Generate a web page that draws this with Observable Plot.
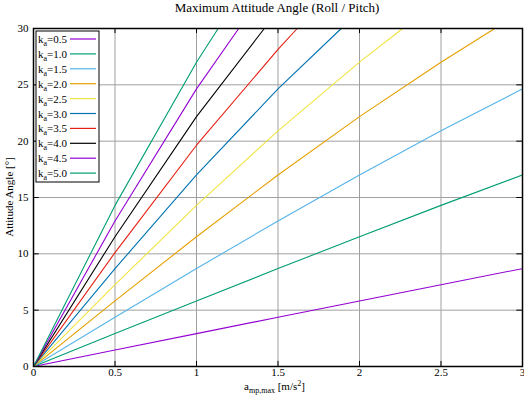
<!DOCTYPE html>
<html>
<head>
<meta charset="utf-8">
<script src="https://cdn.jsdelivr.net/npm/d3@7"></script>
<script src="https://cdn.jsdelivr.net/npm/@observablehq/plot@0.6"></script>
<style>
  body { margin: 0; background: white; }
  #wrap { width: 524px; height: 396px; position: relative; font-family: "Liberation Serif", "DejaVu Serif", serif; }
  #title { height: 18px; line-height: 16px; text-align: center; font-size: 13px; color: #000; padding-left: 30px; box-sizing: border-box; }
  svg { display: block; }
  svg text { font-family: "Liberation Serif", "DejaVu Serif", serif; }
</style>
</head>
<body>
<div id="wrap"><div id="title">Maximum Attitude Angle (Roll / Pitch)</div></div>
<script>
// Values
const titleText = "Maximum Attitude Angle (Roll / Pitch)";
const kaLabels = ["0.5", "1.0", "1.5", "2.0", "2.5", "3.0", "3.5", "4.0", "4.5", "5.0"];
const seriesColors = ["#9400d3", "#009e73", "#56b4e9", "#e69f00", "#f0e442", "#0072b2", "#e51e10", "#000000", "#9400d3", "#009e73"];
const xTicks = [0, 0.5, 1, 1.5, 2, 2.5, 3];
const yTicks = [0, 5, 10, 15, 20, 25, 30];

// acceleration (x) and angle (y) points per series; steep lines end where they leave the top
const accel05 = [0, 0.5, 1, 1.5, 2, 2.5, 3];
const angle05 = [0, 1.46, 2.92, 4.37, 5.82, 7.26, 8.69];
const accel10 = [0, 0.5, 1, 1.5, 2, 2.5, 3];
const angle10 = [0, 2.92, 5.82, 8.69, 11.52, 14.30, 17.00];
const accel15 = [0, 0.5, 1, 1.5, 2, 2.5, 3];
const angle15 = [0, 4.37, 8.69, 12.92, 17.00, 20.92, 24.64];
const accel20 = [0, 0.5, 1, 1.5, 2, 2.5, 2.83];
const angle20 = [0, 5.82, 11.52, 17.00, 22.18, 27.01, 30];
const accel25 = [0, 0.5, 1, 1.5, 2, 2.265];
const angle25 = [0, 7.26, 14.30, 20.92, 27.01, 30];
const accel30 = [0, 0.5, 1, 1.5, 1.888];
const angle30 = [0, 8.69, 17.00, 24.64, 30];
const accel35 = [0, 0.5, 1, 1.5, 1.618];
const angle35 = [0, 10.11, 19.64, 28.15, 30];
const accel40 = [0, 0.5, 1, 1.416];
const angle40 = [0, 11.52, 22.18, 30];
const accel45 = [0, 0.5, 1, 1.259];
const angle45 = [0, 12.92, 24.64, 30];
const accel50 = [0, 0.5, 1, 1.133];
const angle50 = [0, 14.30, 27.01, 30];

const accelSets = [accel05, accel10, accel15, accel20, accel25, accel30, accel35, accel40, accel45, accel50];
const angleSets = [angle05, angle10, angle15, angle20, angle25, angle30, angle35, angle40, angle45, angle50];

const rows = [];
kaLabels.forEach((k, i) => {
  accelSets[i].forEach((a, j) => rows.push({ka: k, a, angle: angleSets[i][j]}));
});

const font = '"Liberation Serif", "DejaVu Serif", serif';
const W = 524, H = 378;
const mL = 33, mR = 2, mT = 10, mB = 30;

const chart = Plot.plot({
  width: W, height: H,
  marginLeft: mL, marginRight: mR, marginTop: mT, marginBottom: mB,
  style: {fontFamily: font, fontSize: "11px", background: "white", color: "black", overflow: "visible"},
  x: {domain: [0, 3], label: null},
  y: {domain: [0, 30], label: null},
  color: {domain: kaLabels, range: seriesColors},
  marks: [
    Plot.gridX(xTicks, {stroke: "#a0a0a0", strokeOpacity: 1, strokeWidth: 1}),
    Plot.gridY(yTicks, {stroke: "#a0a0a0", strokeOpacity: 1, strokeWidth: 1}),
    Plot.ruleX(xTicks, {y1: 0, y2: 0.45, stroke: "#000", strokeWidth: 1}),
    Plot.ruleX(xTicks, {y1: 29.55, y2: 30, stroke: "#000", strokeWidth: 1}),
    Plot.ruleY(yTicks, {x1: 0, x2: 0.035, stroke: "#000", strokeWidth: 1}),
    Plot.ruleY(yTicks, {x1: 2.965, x2: 3, stroke: "#000", strokeWidth: 1}),
    Plot.line(rows, {x: "a", y: "angle", z: "ka", stroke: "ka", strokeWidth: 1.1, clip: true}),
    Plot.frame({stroke: "#000", strokeWidth: 1.5}),
    Plot.axisX(xTicks, {tickSize: 0, tickPadding: 2, tickFormat: d => String(d), fontSize: 11, fontFamily: font}),
    Plot.axisY(yTicks, {tickSize: 0, tickPadding: 5, tickFormat: d => String(d), fontSize: 11, fontFamily: font})
  ]
});
document.getElementById("wrap").appendChild(chart);

// labels and legend drawn with d3 (sub/superscripts)
const svg = d3.select(chart);
const xs = chart.scale("x"), ys = chart.scale("y");
const plotLeft = xs.apply(0), plotRight = xs.apply(3);
const plotTop = ys.apply(30), plotBottom = ys.apply(0);

// x label
const xl = svg.append("text")
  .attr("x", (plotLeft + plotRight) / 2 - 3).attr("y", H - 6)
  .attr("text-anchor", "middle").style("font-family", font).attr("font-size", 11).attr("fill", "#000");
xl.append("tspan").text("a");
xl.append("tspan").attr("font-size", 8).attr("dy", 3).text("mp,max");
xl.append("tspan").attr("dy", -3).text(" [m/s");
xl.append("tspan").attr("font-size", 8).attr("dy", -4).text("2");
xl.append("tspan").attr("dy", 4).text("]");

// y label
svg.append("text")
  .attr("transform", `translate(13,${(plotTop + plotBottom) / 2}) rotate(-90)`)
  .attr("text-anchor", "middle").style("font-family", font).attr("font-size", 11).attr("fill", "#000")
  .text("Attitude Angle [°]");

// legend
const lg = svg.append("g").attr("text-anchor", "start");
const boxX = plotLeft + 3, boxY = plotTop + 3, rowH = 14.9;
lg.append("rect").attr("x", boxX).attr("y", boxY).attr("width", 63).attr("height", rowH * kaLabels.length + 2)
  .style("fill", "#ffffff").style("stroke", "#000000").style("stroke-width", "1px");
kaLabels.forEach((k, i) => {
  const cy = boxY + 8 + i * rowH;
  const t = lg.append("text").attr("x", boxX + 2).attr("y", cy + 4).attr("text-anchor", "start")
    .style("font-family", font).attr("font-size", 11).attr("fill", "#000");
  t.append("tspan").text("k");
  t.append("tspan").attr("font-size", 8).attr("dy", 3).text("a");
  t.append("tspan").attr("dy", -3).text("=" + k);
  lg.append("line").attr("x1", boxX + 34).attr("x2", boxX + 60).attr("y1", cy).attr("y2", cy)
    .style("stroke", seriesColors[i]).style("stroke-width", "1.2px");
});
</script>
</body>
</html>
